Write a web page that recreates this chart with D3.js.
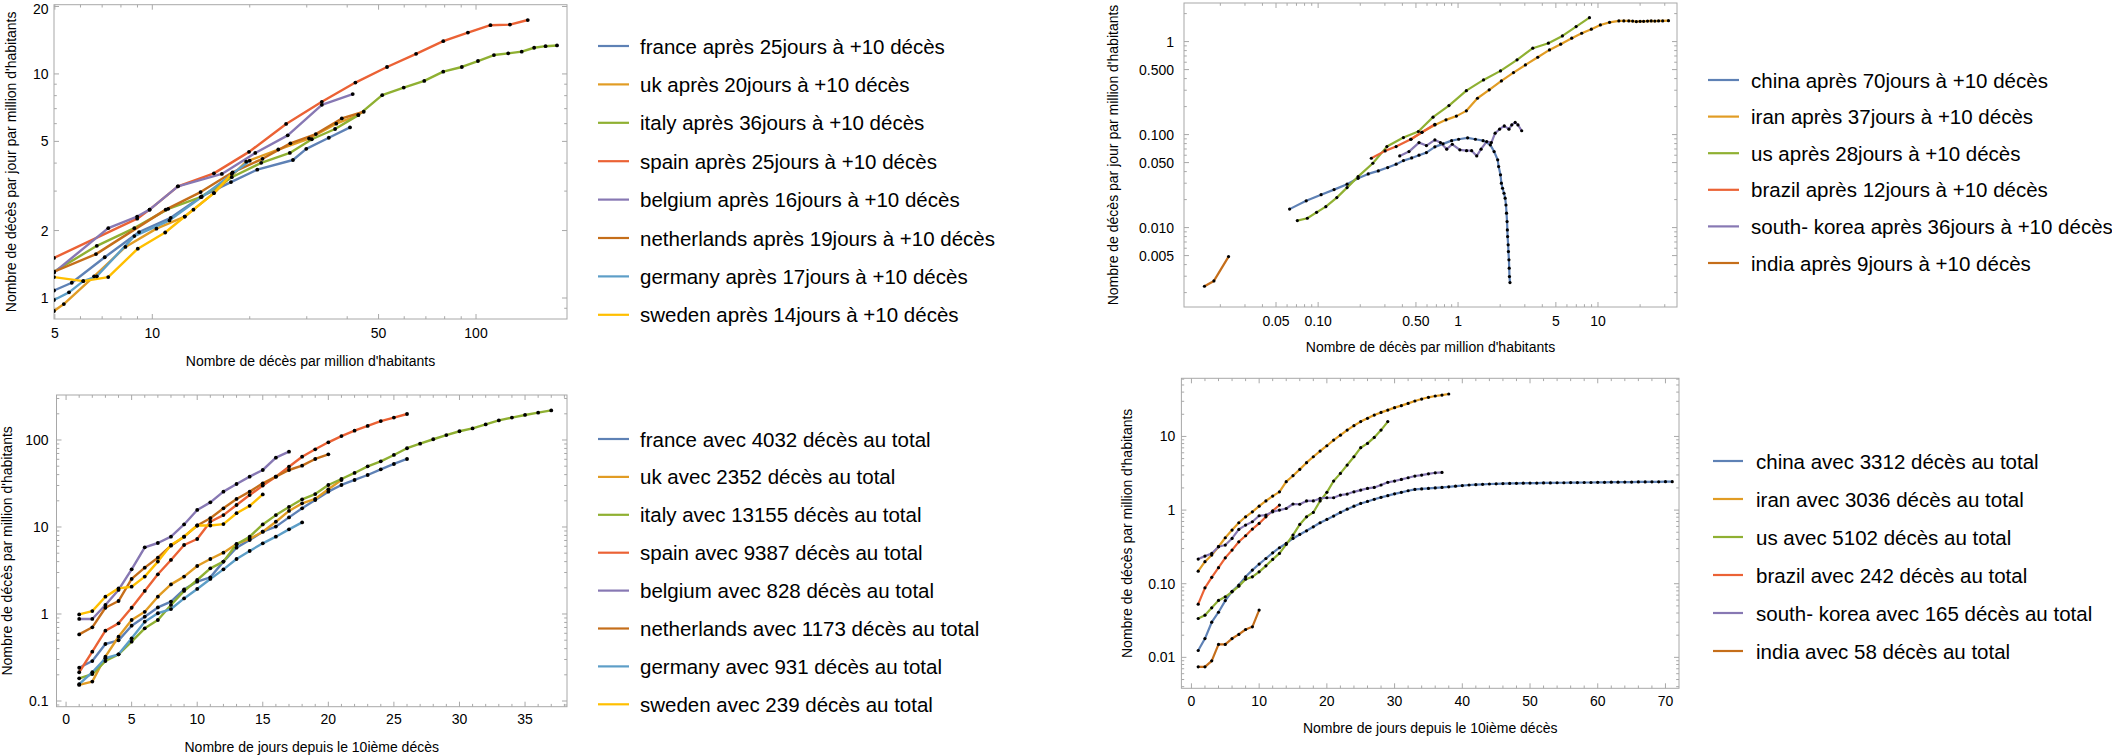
<!DOCTYPE html>
<html><head><meta charset="utf-8">
<script src="https://cdn.jsdelivr.net/npm/d3@7"></script>
<style>
body{margin:0;background:#fff}
svg{display:block}
text{font-family:"Liberation Sans",Arial,Helvetica,sans-serif;fill:#000}
</style>
</head><body>
<svg id="chart" width="2112" height="755"></svg>
<script>
// ---------- colours (Mathematica default palette) ----------
const palette = ["#5E81B5","#E19C24","#8FB032","#EB6235","#8778B3","#C56E1A","#5D9EC7","#FFBF00"];

// ---------- TOP-LEFT : daily deaths vs cumulative deaths (per million) ----------
const tlLegend = ["france après 25jours à +10 décès","uk après 20jours à +10 décès","italy après 36jours à +10 décès","spain après 25jours à +10 décès","belgium après 16jours à +10 décès","netherlands après 19jours à +10 décès","germany après 17jours à +10 décès","sweden après 14jours à +10 décès"];
const tlFrance = [[4.97,1.08],[5.64,1.17],[7.13,1.52],[9.10,1.97],[11.4,2.28],[14.2,2.84],[17.5,3.29],[21.1,3.74],[27.2,4.13],[29.9,4.63],[35.1,5.19],[40.8,5.77]];
const tlUk = [[4.97,0.875],[5.33,0.94],[6.61,1.25],[8.26,1.69],[10.3,2.04],[12.6,2.31],[15.5,2.94],[19.5,4.06],[24.5,4.6],[30.5,5.15],[37.0,6.0],[43.3,6.55]];
const tlItaly = [[4.97,1.31],[6.74,1.71],[8.80,2.05],[11.2,2.50],[14.1,2.82],[17.6,3.46],[21.7,4.01],[26.6,4.44],[31.1,5.11],[36.7,5.68],[43.3,6.55],[51.3,8.04],[59.8,8.69],[69.2,9.31],[79.2,10.24],[90.4,10.74],[101.4,11.42],[113.6,12.14],[125.7,12.36],[138.4,12.57],[151.2,13.09],[164.0,13.3],[177.9,13.4]];
const tlSpain = [[4.97,1.51],[8.98,2.26],[9.81,2.48],[12.0,3.15],[15.5,3.60],[19.9,4.49],[25.9,5.98],[33.4,7.51],[42.4,9.15],[53.1,10.74],[65.3,12.3],[79.2,14.0],[94.4,15.3],[110.8,16.5],[127.3,16.6],[144.5,17.4]];
const tlBelgium = [[4.97,1.30],[7.31,2.05],[8.98,2.31],[9.81,2.48],[12.0,3.15],[16.4,3.58],[20.8,4.44],[26.2,5.32],[33.4,7.28],[41.6,8.13]];
const tlNetherlands = [[4.97,1.31],[6.70,1.57],[11.0,2.48],[14.1,2.97],[17.7,3.64],[21.9,4.18],[26.7,4.90],[32.0,5.39],[38.5,6.33],[45.0,6.78]];
const tlGermany = [[4.97,0.98],[5.53,1.06],[6.12,1.19],[6.74,1.25],[8.80,1.89],[11.3,2.22],[14.2,2.82],[20.0,4.1]];
const tlSweden = [[4.97,1.24],[6.12,1.19],[7.31,1.24],[9.02,1.66],[10.96,1.96],[12.6,2.31],[13.4,2.48],[15.5,2.94],[17.6,3.58]];
const tlXTicks = [5,10,50,100];
const tlXTickLabels = ["5","10","50","100"];
const tlYTicks = [1,2,5,10,20];
const tlYTickLabels = ["1","2","5","10","20"];

// ---------- TOP-RIGHT ----------
const trLegend = ["china après 70jours à +10 décès","iran après 37jours à +10 décès","us après 28jours à +10 décès","brazil après 12jours à +10 décès","south- korea après 36jours à +10 décès","india après 9jours à +10 décès"];
const trChina = [[0.0625,0.0158],[0.0822,0.0194],[0.105,0.0226],[0.130,0.0256],[0.161,0.0293],[0.193,0.0339],[0.228,0.0378],[0.269,0.0407],[0.314,0.0442],[0.361,0.0481],[0.407,0.0525],[0.466,0.0561],[0.526,0.0600],[0.594,0.0640],[0.683,0.0738],[0.781,0.0795],[0.899,0.0861],[1.01,0.0891],[1.17,0.0922],[1.33,0.0891],[1.51,0.0861],[1.70,0.0775],[1.81,0.0657],[1.92,0.0535],[1.95,0.0453],[2.01,0.0369],[2.04,0.0300],[2.08,0.0265],[2.13,0.0234],[2.17,0.0207],[2.20,0.0175],[2.22,0.0143],[2.24,0.0116],[2.25,0.00945],[2.26,0.0080],[2.28,0.00652],[2.29,0.00552],[2.31,0.0045],[2.32,0.00366],[2.33,0.00297],[2.35,0.00256]];
const trIran = [[0.460,0.0891],[0.552,0.106],[0.683,0.127],[0.820,0.144],[0.973,0.158],[1.146,0.180],[1.376,0.246],[1.67,0.303],[2.04,0.378],[2.49,0.464],[3.03,0.561],[3.71,0.679],[4.50,0.814],[5.41,0.938],[6.49,1.087],[7.65,1.23],[8.96,1.36],[10.4,1.51],[12.1,1.61],[14.1,1.67],[15.3,1.67],[16.6,1.67],[17.7,1.66],[18.8,1.64],[20.0,1.65],[21.2,1.65],[22.6,1.66],[24.0,1.67],[25.5,1.66],[27.1,1.67],[29.0,1.67],[31.9,1.68]];
const trUs = [[0.0710,0.0119],[0.0837,0.0126],[0.0975,0.0146],[0.1135,0.0168],[0.136,0.0210],[0.161,0.0269],[0.193,0.0353],[0.246,0.0492],[0.310,0.0743],[0.407,0.0929],[0.520,0.108],[0.662,0.154],[0.861,0.205],[1.146,0.297],[1.52,0.387],[2.01,0.484],[2.64,0.636],[3.42,0.849],[4.42,0.961],[5.57,1.15],[6.98,1.45],[8.69,1.81]];
const trBrazil = [[0.240,0.0557],[0.301,0.0668],[0.361,0.0743],[0.460,0.0891],[0.552,0.106],[0.683,0.129]];
const trKorea = [[0.383,0.0590],[0.446,0.0657],[0.526,0.0820],[0.594,0.0762],[0.683,0.0877],[0.748,0.0820],[0.830,0.0697],[0.910,0.0787],[1.03,0.0685],[1.15,0.0672],[1.25,0.0672],[1.36,0.0590],[1.46,0.0697],[1.60,0.0841],[1.73,0.0820],[1.84,0.1035],[1.98,0.1143],[2.14,0.124],[2.31,0.1143],[2.42,0.127],[2.56,0.135],[2.68,0.127],[2.85,0.110]];
const trIndia = [[0.0154,0.00234],[0.0180,0.00267],[0.0229,0.00488]];
const trXTicks = [0.05,0.1,0.5,1,5,10];
const trXTickLabels = ["0.05","0.10","0.50","1","5","10"];
const trYTicks = [0.005,0.01,0.05,0.1,0.5,1];
const trYTickLabels = ["0.005","0.010","0.050","0.100","0.500","1"];

// ---------- BOTTOM-LEFT : cumulative deaths per million by day ----------
const blLegend = ["france avec 4032 décès au total","uk avec 2352 décès au total","italy avec 13155 décès au total","spain avec 9387 décès au total","belgium avec 828 décès au total","netherlands avec 1173 décès au total","germany avec 931 décès au total","sweden avec 239 décès au total"];
const blFrance = [0.241,0.288,0.452,0.498,0.734,0.931,1.19,1.39,1.92,2.35,2.64,4.0,5.79,7.09,8.83,10.1,12.9,16.4,20.4,25.5,30.4,34.7,39.6,46.0,53.0,60.5];
const blUk = [0.153,0.167,0.323,0.548,0.853,1.06,1.58,2.19,2.69,3.56,4.29,5.07,6.38,7.28,8.83,11.5,15.3,18.7,21.0,27.1,34.7];
const blItaly = [0.182,0.204,0.288,0.344,0.481,0.684,0.853,1.27,1.84,2.46,3.35,4.0,6.32,7.74,10.7,13.7,17.0,20.8,23.9,30.4,35.6,41.8,49.8,56.9,67.3,80.4,90.8,102,114,126,136,151,168,181,194,206,219];
const blSpain = [0.214,0.369,0.643,0.781,1.18,1.84,2.86,4.18,6.21,7.28,11.5,13.7,17.9,23.3,29.9,37.9,49.3,64.3,78.2,94.1,111,128,145,165,181,199];
const blBelgium = [0.877,0.877,1.27,1.89,3.26,5.84,6.55,7.74,10.7,15.7,19.2,25.5,31.2,37.9,45.2,62.6,73.4];
const blNetherlands = [0.583,0.703,1.18,1.41,2.53,3.41,4.44,6.1,7.74,10.4,12.6,16.4,21.0,25.5,31.8,37.9,45.2,50.7,60.5,68.4];
const blGermany = [0.156,0.214,0.310,0.344,0.525,0.817,1.02,1.14,1.51,1.94,2.53,3.26,4.29,5.30,6.49,7.74,9.40,11.3];
const blSweden = [0.99,1.08,1.58,1.97,2.06,2.69,4.0,6.21,7.74,10.4,10.4,10.8,14.4,17.5,23.7];
const blXTicks = [0,5,10,15,20,25,30,35];
const blYTicks = [0.1,1,10,100];
const blYTickLabels = ["0.1","1","10","100"];

// ---------- BOTTOM-RIGHT ----------
const brLegend = ["china avec 3312 décès au total","iran avec 3036 décès au total","us avec 5102 décès au total","brazil avec 242 décès au total","south- korea avec 165 décès au total","india avec 58 décès au total"];
const brChina = [0.0124,0.018,0.030,0.041,0.059,0.079,0.096,0.124,0.153,0.185,0.220,0.263,0.308,0.352,0.412,0.467,0.523,0.593,0.673,0.747,0.829,0.929,1.03,1.13,1.23,1.31,1.40,1.49,1.57,1.66,1.74,1.83,1.91,1.94,1.97,2.00,2.03,2.07,2.11,2.15,2.19,2.21,2.24,2.26,2.27,2.29,2.30,2.31,2.32,2.33,2.33,2.34,2.34,2.35,2.35,2.36,2.36,2.37,2.37,2.38,2.38,2.39,2.39,2.40,2.40,2.41,2.41,2.42,2.42,2.43,2.43];
const brIran = [0.148,0.199,0.245,0.318,0.421,0.535,0.673,0.811,0.948,1.13,1.33,1.55,1.77,2.43,2.93,3.57,4.40,5.30,6.33,7.48,8.93,10.4,12.2,14.0,15.9,17.6,19.5,21.2,22.8,24.6,26.2,28.1,30.3,32.2,34.0,35.4,36.5,37.7];
const brUs = [0.0337,0.0374,0.0471,0.0593,0.0664,0.0777,0.0927,0.115,0.124,0.145,0.175,0.214,0.258,0.342,0.457,0.639,0.811,0.929,1.33,1.74,2.48,3.15,4.09,5.30,7.03,8.05,9.71,12.2,15.9];
const brBrazil = [0.0528,0.0880,0.122,0.165,0.225,0.286,0.371,0.448,0.552,0.659,0.811,0.98,1.17];
const brKorea = [0.216,0.237,0.258,0.318,0.335,0.412,0.546,0.625,0.694,0.837,0.855,0.948,1.0,1.05,1.21,1.2,1.33,1.33,1.44,1.47,1.47,1.60,1.65,1.77,1.87,1.97,2.03,2.19,2.38,2.48,2.61,2.75,2.90,2.99,3.11,3.21,3.25];
const brIndia = [0.00743,0.00743,0.00897,0.0150,0.0150,0.0180,0.0205,0.0239,0.0260,0.0438];
const brXTicks = [0,10,20,30,40,50,60,70];
const brYTicks = [0.01,0.1,1,10];
const brYTickLabels = ["0.01","0.10","1","10"];

// ---------- drawing ----------
const svg = d3.select("#chart");
const byDay = arr => arr.map((v,i) => [i+1, v]);
let clipId = 0;

function drawPanel(p){
  const g = svg.append("g");
  const x = (p.xLog ? d3.scaleLog() : d3.scaleLinear()).domain(p.xDomain).range([p.left, p.right]);
  const y = d3.scaleLog().domain(p.yDomain).range([p.bottom, p.top]);
  const frameCol = "#a8a8a8";

  // ticks (inward, all four sides)
  const near = (a,b) => Math.abs(a-b) < 1e-9*Math.max(1,Math.abs(a));
  const xMinor = p.xLog ? x.ticks().filter(t => !p.xTicks.some(m => near(m,t)))
                        : d3.range(Math.ceil(p.xDomain[0]/p.xMinorStep)*p.xMinorStep, p.xDomain[1], p.xMinorStep).filter(t => !p.xTicks.some(m => near(m,t)));
  const yMinor = y.ticks().filter(t => !p.yTicks.some(m => near(m,t)));
  const tk = g.append("g").attr("stroke", frameCol).attr("stroke-width", 1).attr("fill","none");
  const xt = (vals, len) => vals.forEach(v => {
    const px = x(v);
    if (px < p.left || px > p.right) return;
    tk.append("line").attr("x1",px).attr("x2",px).attr("y1",p.bottom).attr("y2",p.bottom-len);
    tk.append("line").attr("x1",px).attr("x2",px).attr("y1",p.top).attr("y2",p.top+len);
  });
  const yt = (vals, len) => vals.forEach(v => {
    const py = y(v);
    if (py < p.top || py > p.bottom) return;
    tk.append("line").attr("y1",py).attr("y2",py).attr("x1",p.left).attr("x2",p.left+len);
    tk.append("line").attr("y1",py).attr("y2",py).attr("x1",p.right).attr("x2",p.right-len);
  });
  xt(p.xTicks, 5); xt(xMinor, 2.8); yt(p.yTicks, 5); yt(yMinor, 2.8);

  g.append("rect").attr("x",p.left).attr("y",p.top)
    .attr("width",p.right-p.left).attr("height",p.bottom-p.top)
    .attr("fill","none").attr("stroke",frameCol).attr("stroke-width",1);

  // tick labels
  p.xTicks.forEach((v,i) => g.append("text").attr("x",x(v)).attr("y",p.xLabelY)
    .attr("text-anchor","middle").attr("dominant-baseline","central")
    .style("font-size","14px").text(p.xTickLabels[i]));
  p.yTicks.forEach((v,i) => g.append("text").attr("x",p.left-p.yGap).attr("y",Math.max(8.5, y(v)))
    .attr("text-anchor","end").attr("dominant-baseline","central")
    .style("font-size","14px").text(p.yTickLabels[i]));

  // axis titles
  g.append("text").attr("x",(p.left+p.right)/2).attr("y",p.xTitleY)
    .attr("text-anchor","middle").attr("dominant-baseline","central")
    .style("font-size","14px").text(p.xTitle);
  g.append("text").attr("transform",`translate(${p.yTitleX},${(p.top+p.bottom)/2}) rotate(-90)`)
    .attr("text-anchor","middle").attr("dominant-baseline","central")
    .style("font-size","14px").text(p.yTitle);

  // data
  const id = "clip" + (clipId++);
  g.append("clipPath").attr("id",id).append("rect")
    .attr("x",p.left).attr("y",p.top).attr("width",p.right-p.left).attr("height",p.bottom-p.top);
  const plot = g.append("g").attr("clip-path",`url(#${id})`);
  const line = d3.line().x(d => x(d[0])).y(d => y(d[1]));
  p.series.forEach((s,i) => {
    plot.append("path").datum(s).attr("d",line).attr("fill","none")
      .attr("stroke",palette[i]).attr("stroke-width",p.lw).attr("stroke-linejoin","round");
  });
  p.series.forEach(s => {
    plot.append("g").selectAll("circle").data(s).join("circle")
      .attr("cx",d => x(d[0])).attr("cy",d => y(d[1])).attr("r",p.dotR).attr("fill","#000");
  });

  // legend
  p.legend.forEach((name,i) => {
    const ly = p.legY0 + i*p.legDy;
    g.append("line").attr("x1",p.legX1).attr("x2",p.legX2).attr("y1",ly).attr("y2",ly)
      .attr("stroke",palette[i]).attr("stroke-width",2.2);
    g.append("text").attr("x",p.legTextX).attr("y",ly).attr("dominant-baseline","central")
      .style("font-size","20.5px").text(name);
  });
}

drawPanel({
  xLog:true, xDomain:[4.97,191], yDomain:[0.806,20.37],
  left:54, right:567, top:4.7, bottom:319,
  xTicks:tlXTicks, xTickLabels:tlXTickLabels, yTicks:tlYTicks, yTickLabels:tlYTickLabels,
  xLabelY:333, yGap:5.5, xTitleY:361, yTitleX:11,
  xTitle:"Nombre de décès par million d'habitants",
  yTitle:"Nombre de décès par jour par million d'habitants",
  series:[tlFrance,tlUk,tlItaly,tlSpain,tlBelgium,tlNetherlands,tlGermany,tlSweden],
  lw:2.4, dotR:1.9,
  legend:tlLegend, legX1:598, legX2:629, legTextX:640, legY0:46, legDy:38.4
});

drawPanel({
  xLog:true, xDomain:[0.011,36.7], yDomain:[0.0014,2.6],
  left:1184, right:1677, top:3, bottom:307,
  xTicks:trXTicks, xTickLabels:trXTickLabels, yTicks:trYTicks, yTickLabels:trYTickLabels,
  xLabelY:321, yGap:10, xTitleY:347, yTitleX:1113,
  xTitle:"Nombre de décès par million d'habitants",
  yTitle:"Nombre de décès par jour par million d'habitants",
  series:[trChina,trIran,trUs,trBrazil,trKorea,trIndia],
  lw:2.2, dotR:1.6,
  legend:trLegend, legX1:1708, legX2:1739, legTextX:1751, legY0:80, legDy:36.6
});

drawPanel({
  xLog:false, xDomain:[-0.73,38.2], yDomain:[0.086,329], xMinorStep:1,
  left:56.5, right:567, top:395, bottom:706.7,
  xTicks:blXTicks, xTickLabels:blXTicks.map(String), yTicks:blYTicks, yTickLabels:blYTickLabels,
  xLabelY:719, yGap:8, xTitleY:747, yTitleX:7,
  xTitle:"Nombre de jours depuis le 10ième décès",
  yTitle:"Nombre de décès par million d'habitants",
  series:[blFrance,blUk,blItaly,blSpain,blBelgium,blNetherlands,blGermany,blSweden].map(byDay),
  lw:2.4, dotR:1.9,
  legend:blLegend, legX1:598, legX2:629, legTextX:640, legY0:439, legDy:37.9
});

drawPanel({
  xLog:false, xDomain:[-1.48,72.0], yDomain:[0.0038,61.6], xMinorStep:2,
  left:1181.4, right:1679, top:378.3, bottom:688.3,
  xTicks:brXTicks, xTickLabels:brXTicks.map(String), yTicks:brYTicks, yTickLabels:brYTickLabels,
  xLabelY:701, yGap:6, xTitleY:728, yTitleX:1127,
  xTitle:"Nombre de jours depuis le 10ième décès",
  yTitle:"Nombre de décès par million d'habitants",
  series:[brChina,brIran,brUs,brBrazil,brKorea,brIndia].map(byDay),
  lw:2.2, dotR:1.6,
  legend:brLegend, legX1:1713, legX2:1743, legTextX:1756, legY0:461, legDy:38
});
</script>
</body></html>
